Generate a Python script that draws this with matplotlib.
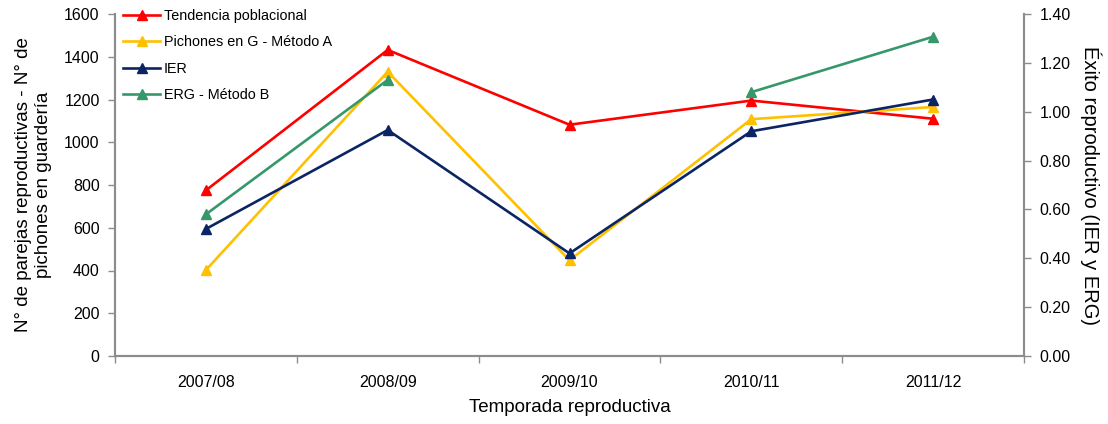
import numpy as np
import matplotlib
matplotlib.use("Agg")
import matplotlib.pyplot as plt

plt.rcParams['font.family'] = ['Liberation Sans', 'DejaVu Sans']

categories = ["2007/08", "2008/09", "2009/10", "2010/11", "2011/12"]
tendencia = [775, 1432, 1082, 1195, 1110]
pichones = [402, 1330, 448, 1108, 1165]
ier = [0.52, 0.925, 0.42, 0.92, 1.05]
erg = [0.58, 1.13, np.nan, 1.08, 1.307]

c_red = "#FF0000"
c_yel = "#FFC000"
c_nav = "#0B2463"
c_grn = "#36986A"
gray = "#8C8C8C"

fig = plt.figure(figsize=(11.08, 4.24), dpi=100)
ax = fig.add_axes([115/1108, 1-356/424, (1024-115)/1108, (356-14)/424])
ax2 = ax.twinx()

x = np.arange(len(categories))
lw = 1.9
ms = 7.5
l1, = ax.plot(x, tendencia, color=c_red, lw=lw, marker='^', ms=ms, label="Tendencia poblacional")
l2, = ax.plot(x, pichones, color=c_yel, lw=lw, marker='^', ms=ms, label="Pichones en G - Método A")
l3, = ax2.plot(x, ier, color=c_nav, lw=lw, marker='^', ms=ms, label="IER")
l4, = ax2.plot(x, erg, color=c_grn, lw=lw, marker='^', ms=ms, label="ERG - Método B")

ax.set_xlim(-0.5, len(categories) - 0.5)
ax.set_ylim(0, 1600)
ax.set_yticks(np.arange(0, 1601, 200))
ax2.set_ylim(0, 1.4)
ax2.set_yticks(np.arange(0, 1.41, 0.2))
ax2.set_yticklabels([f"{v:.2f}" for v in np.arange(0, 1.41, 0.2)])

ax.set_xticks(x)
ax.set_xticklabels(categories)
ax.set_xticks(np.arange(-0.5, len(categories), 1.0), minor=True)
ax.tick_params(axis='x', which='major', length=0, pad=14, labelsize=11.5)
ax.tick_params(axis='x', which='minor', length=5, color=gray, width=1)
ax.tick_params(axis='y', length=5, color=gray, width=1, labelsize=11.5, pad=6)
ax2.tick_params(axis='y', length=5, color=gray, width=1, labelsize=11.5, pad=6)

for a in (ax, ax2):
    a.spines['top'].set_visible(False)
    for s in ('left', 'right', 'bottom'):
        a.spines[s].set_color(gray)
        a.spines[s].set_linewidth(1.5)

ax.set_xlabel("Temporada reproductiva", fontsize=13.5, labelpad=6)
ax.set_ylabel("N° de parejas reproductivas - N° de\npichones en guardería", fontsize=13.5, labelpad=9)
ax2.set_ylabel("Éxito reproductivo (IER y ERG)", fontsize=14.5, rotation=270, labelpad=22)

leg = fig.legend(handles=[l1, l2, l3, l4], loc='upper left',
                 bbox_to_anchor=(120/1108, 1 - 6/424), frameon=False,
                 fontsize=10.4, handlelength=2.6, handletextpad=0.25,
                 labelspacing=0.86, borderpad=0.2, borderaxespad=0)

fig.savefig("out.png", dpi=100)
